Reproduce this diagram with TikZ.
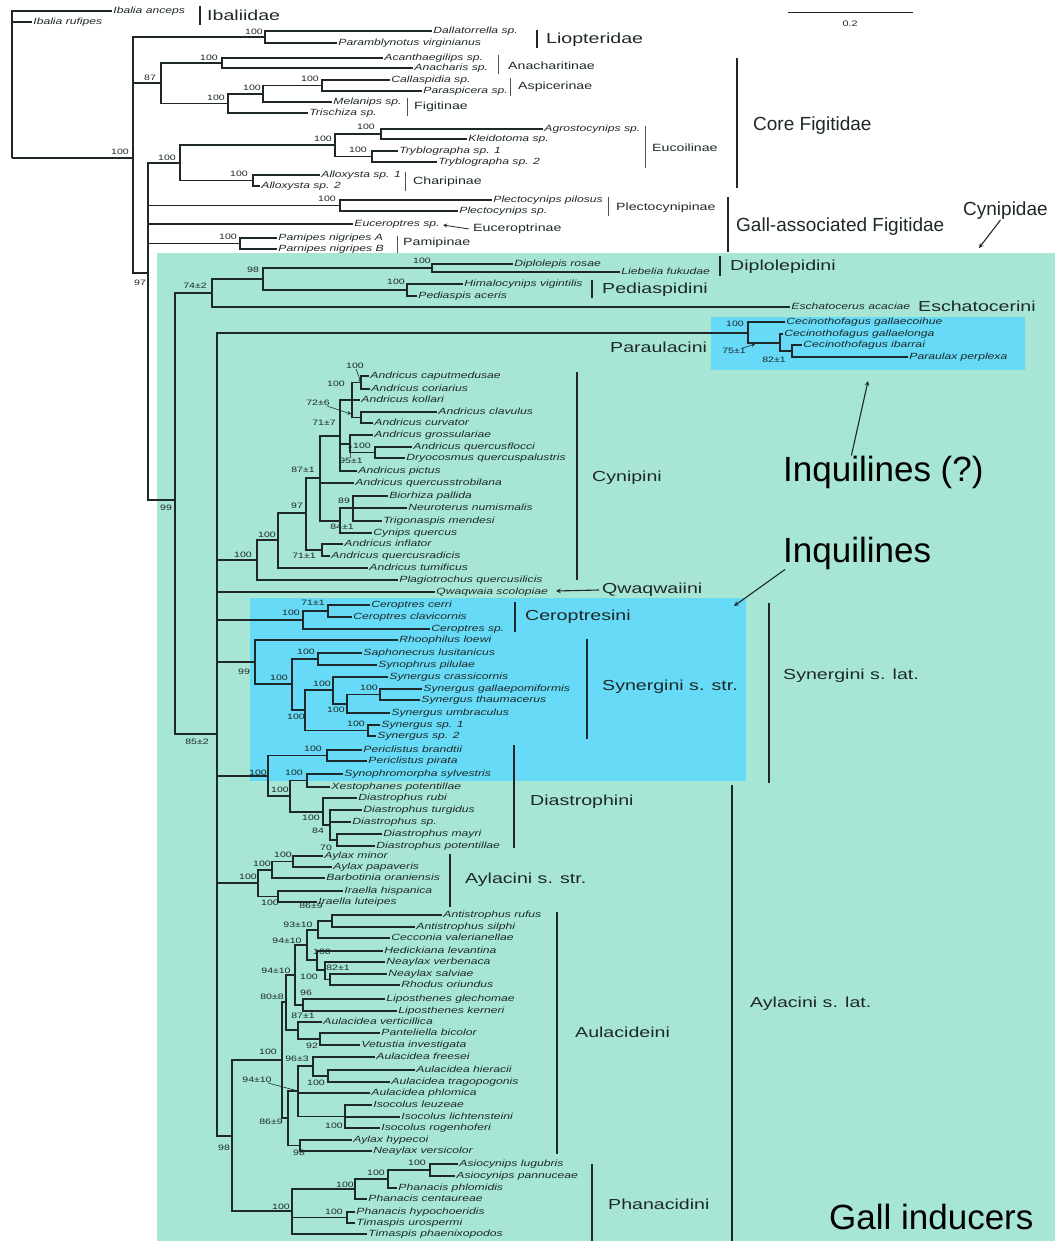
\documentclass[tikz,border=0pt]{standalone}
\usepackage{fontspec}
\setmainfont{Liberation Sans}
\usepackage{graphicx}
\definecolor{gallgreen}{RGB}{167,230,212}
\definecolor{inqblue}{RGB}{102,218,246}
\definecolor{ink}{RGB}{30,40,40}
\newcommand{\wide}[1]{\scalebox{1.35}[1]{#1}}

\begin{document}
\begin{tikzpicture}[x=1pt, y=-1pt,
    br/.style={draw=ink, line width=1.2pt},
    cbar/.style={draw=ink, line width=2.4pt},
    tbar/.style={draw=ink!80, line width=1pt},
    leaf/.style={anchor=west, inner xsep=1.2pt, inner ysep=0pt, text height=6pt, text depth=1.4pt, text=ink, font=\fontsize{9}{10}\selectfont\itshape},
    bs/.style={inner sep=0pt, text=ink, font=\fontsize{7.8}{8}\selectfont},
    sub/.style={anchor=west, inner sep=0pt, text=ink, font=\fontsize{10.5}{12}\selectfont},
    clade/.style={anchor=west, inner sep=0pt, text=ink, font=\fontsize{14.5}{16}\selectfont},
    big/.style={anchor=west, inner sep=0pt, text=ink, font=\fontsize{19}{22}\selectfont},
    huge/.style={anchor=west, inner sep=0pt, text=black, font=\fontsize{35}{40}\selectfont},
    pointer/.style={draw=ink, line width=1.1pt, -stealth},
    tick/.style={draw=ink, line width=0.6pt}
]
    \useasboundingbox (0,0) rectangle (1055,1241);

    % Shaded areas
    \fill[gallgreen] (157,253) rectangle (1055,1241);
    \fill[inqblue] (711,317) rectangle (1025,370);
    \fill[inqblue] (250,598) rectangle (746,781);

    % Scale bar
    \draw[draw=ink, line width=1pt] (788,13) -- (913,13);
    \node[bs, font=\fontsize{8}{9}\selectfont] (scl) at (850,24) {\wide{0.2}};

    % Tips of the tree
    \foreach \n/\px/\py/\lab in {
        ian/112/11/Ibalia anceps, iru/32/22/Ibalia rufipes,
        dal/432/31/Dallatorrella sp., par/337/43/Paramblynotus virginianus,
        aca/383/58/Acanthaegilips sp., ana/413/68/Anacharis sp.,
        cal/390/80/Callaspidia sp., pas/422/91/Paraspicera sp.,
        mel/332/102/Melanips sp., tri/308/113/Trischiza sp.,
        agr/543/129/Agrostocynips sp., kle/467/139/Kleidotoma sp.,
        try1/398/151/Tryblographa sp. 1, try2/437/162/Tryblographa sp. 2,
        all1/320/175/Alloxysta sp. 1, all2/260/186/Alloxysta sp. 2,
        plp/492/200/Plectocynips pilosus, pls/458/211/Plectocynips sp.,
        euc/353/224/Euceroptres sp.,
        pna/277/238/Pamipes nigripes A, pnb/277/249/Parnipes nigripes B,
        dro/513/264/Diplolepis rosae, lfu/620/272/Liebelia fukudae,
        hvi/463/284/Himalocynips vigintilis, pac/417/296/Pediaspis aceris,
        eac/790/307/Eschatocerus acaciae,
        cga/785/322/Cecinothofagus gallaecoihue, cgl/783/334/Cecinothofagus gallaelonga,
        cib/802/345/Cecinothofagus ibarrai, ppe/908/357/Paraulax perplexa,
        acm/369/376/Andricus caputmedusae, aco/370/389/Andricus coriarius,
        ako/360/400/Andricus kollari, acl/437/412/Andricus clavulus,
        acu/373/423/Andricus curvator, agro/373/435/Andricus grossulariae,
        aqf/412/447/Andricus quercusflocci, dqp/405/458/Dryocosmus quercuspalustris,
        api/357/471/Andricus pictus, aqs/354/483/Andricus quercusstrobilana,
        bpa/388/496/Biorhiza pallida, nnu/407/508/Neuroterus numismalis,
        tme/382/521/Trigonaspis mendesi, cqu/372/533/Cynips quercus,
        ain/343/544/Andricus inflator, aqr/330/556/Andricus quercusradicis,
        atu/368/568/Andricus tumificus, pqu/398/580/Plagiotrochus quercusilicis,
        qsc/435/592/Qwaqwaia scolopiae,
        cce/370/605/Ceroptres cerri, ccl/352/617/Ceroptres clavicornis,
        csp/430/629/Ceroptres sp.,
        rlo/398/640/Rhoophilus loewi, slu/362/653/Saphonecrus lusitanicus,
        spi/377/665/Synophrus pilulae, scr/388/677/Synergus crassicornis,
        sga/422/689/Synergus gallaepomiformis, sth/420/700/Synergus thaumacerus,
        sum/390/713/Synergus umbraculus, ss1/380/725/Synergus sp. 1,
        ss2/376/736/Synergus sp. 2,
        pbr/362/750/Periclistus brandtii, ppi/367/761/Periclistus pirata,
        ssy/343/774/Synophromorpha sylvestris, xpo/330/787/Xestophanes potentillae,
        dru/357/798/Diastrophus rubi, dtu/362/810/Diastrophus turgidus,
        dsp/351/822/Diastrophus sp., dma/382/834/Diastrophus mayri,
        dpo/375/846/Diastrophus potentillae,
        ami/323/856/Aylax minor, apa/332/867/Aylax papaveris,
        bor/325/878/Barbotinia oraniensis, ihi/343/891/Iraella hispanica,
        ilu/317/902/Iraella luteipes,
        aru/442/915/Antistrophus rufus, asi/415/927/Antistrophus silphi,
        cva/390/938/Cecconia valerianellae, hle/383/951/Hedickiana levantina,
        nve/385/962/Neaylax verbenaca, nsa/387/974/Neaylax salviae,
        ror/400/985/Rhodus oriundus, lgl/385/999/Liposthenes glechomae,
        lke/397/1011/Liposthenes kerneri, ave/322/1022/Aulacidea verticillica,
        pbi/380/1033/Panteliella bicolor, vin/360/1045/Vetustia investigata,
        afr/375/1057/Aulacidea freesei, ahi/415/1070/Aulacidea hieracii,
        atr/390/1082/Aulacidea tragopogonis, aph/370/1093/Aulacidea phlomica,
        ile/372/1105/Isocolus leuzeae, ili/400/1117/Isocolus lichtensteini,
        iro/380/1128/Isocolus rogenhoferi, ahy/352/1140/Aylax hypecoi,
        nvs/372/1151/Neaylax versicolor,
        alu/458/1164/Asiocynips lugubris, apn/455/1176/Asiocynips pannuceae,
        pph/397/1188/Phanacis phlomidis, pce/367/1199/Phanacis centaureae,
        phy/355/1212/Phanacis hypochoeridis, tur/355/1223/Timaspis urospermi,
        tph/367/1234/Timaspis phaenixopodos} {
        \node[leaf] (\n) at (\px,\py) {\wide{\lab}};
    }

    % Inner nodes of the tree
    \foreach \n/\px/\py in {
        root/12/158, A/133/158, liop/265/37, n87/161/83, anach/222/63,
        asp/322/85.5, mlp/263/94, fig/228/103.5, B/148/273, ec/180/163,
        eucN/335/145, agrN/381/134, tryN/372/156.5, allN/253/180.5,
        plec/340/205.5, parn/240/243.5, C/175/500, n742/212/293,
        n98t/263/279, dipl/432/268, pedi/407/290, D/217/734,
        P1/748/333, P2/780/343, P3/792/351,
        N1/361/382.5, N2/352/400, N3/361/417.5, N5/375/452.5, N6/350/444,
        N7/340/436, N8/353/508, N9/340/521, N10/320/478, N11/322/550,
        N12/306/513, N13/278/540, N14/257/560,
        cr1/328/611, cr2/303/620,
        S1/318/659, S2/380/694.5, S3/347/704, S4/333/690, S5/368/730.5,
        S6/305/710, S7/292/684, S99/255/662,
        pe/327/755.5, sy/307/780.5, dm/337/840, dt/330/825, dr/323/812,
        ds/290/796, di/268/776,
        am/293/861.5, ab/272/870, ir/278/896.5, ay/258/883,
        ar/332/921, ce/318/930, ns/330/979.5, nv/325/970, hl/317/960,
        ua/307/945, lg/303/1005, ub/295/975, pv/320/1039, kx/298/1030,
        k80/286/1002, ah/328/1076, af/313/1066, is/345/1116.5, ap/298/1091,
        ah2/300/1145.5, k86/288/1118, aul/282/1060,
        as/430/1170, ph1/388/1179, ph2/355/1189, tu/347/1217.5,
        phan/292/1211, n98b/232/1136} {
        \coordinate (\n) at (\px,\py);
    }

    % Branches
    \foreach \p/\c in {
        root/ian, root/iru, root/A, A/liop, A/n87, A/B,
        liop/dal, liop/par, n87/anach, n87/fig, anach/aca, anach/ana,
        fig/mlp, fig/tri, mlp/asp, mlp/mel, asp/cal, asp/pas,
        B/ec, B/plec, B/euc, B/parn, B/C,
        ec/eucN, ec/allN, eucN/agrN, eucN/tryN, agrN/agr, agrN/kle,
        tryN/try1, tryN/try2, allN/all1, allN/all2,
        plec/plp, plec/pls, parn/pna, parn/pnb,
        C/n742, C/D, n742/n98t, n742/eac, n98t/dipl, n98t/pedi,
        dipl/dro, dipl/lfu, pedi/hvi, pedi/pac,
        D/P1, D/N14, D/qsc, D/cr2, D/S99, D/di, D/ay, D/n98b,
        P1/cga, P1/P2, P2/cgl, P2/P3, P3/cib, P3/ppe,
        N14/N13, N14/pqu, N13/N12, N13/atu, N12/N10, N12/N11,
        N11/ain, N11/aqr, N10/N7, N10/aqs, N10/N9,
        N9/N8, N9/cqu, N8/bpa, N8/nnu, N8/tme,
        N7/N2, N7/N6, N7/api, N6/agro, N6/N5, N5/aqf, N5/dqp,
        N2/N1, N2/ako, N2/N3, N1/acm, N1/aco, N3/acl, N3/acu,
        cr2/cr1, cr2/csp, cr1/cce, cr1/ccl,
        S99/rlo, S99/S7, S7/S1, S7/S6, S1/slu, S1/spi,
        S6/S4, S6/S5, S4/scr, S4/S3, S3/S2, S3/sum, S2/sga, S2/sth,
        S5/ss1, S5/ss2,
        di/pe, di/ds, pe/pbr, pe/ppi, ds/sy, ds/dr, sy/ssy, sy/xpo,
        dr/dru, dr/dt, dt/dtu, dt/dsp, dt/dm, dm/dma, dm/dpo,
        ay/ab, ay/ir, ab/am, ab/bor, am/ami, am/apa, ir/ihi, ir/ilu,
        n98b/aul, n98b/phan, aul/k80, aul/k86,
        k80/ub, k80/kx, ub/ua, ub/lg, ua/ce, ua/hl, ce/ar, ce/cva,
        ar/aru, ar/asi, hl/hle, hl/nv, nv/nve, nv/ns, ns/nsa, ns/ror,
        lg/lgl, lg/lke, kx/ave, kx/pv, pv/pbi, pv/vin,
        k86/ap, k86/ah2, ap/af, ap/aph, ap/is, af/afr, af/ah,
        ah/ahi, ah/atr, is/ile, is/ili, is/iro, ah2/ahy, ah2/nvs,
        phan/ph2, phan/tu, phan/tph, ph2/ph1, ph2/pce, ph1/as, ph1/pph,
        as/alu, as/apn, tu/phy, tu/tur} {
        \draw[br] (\p) |- (\c);
    }

    % Support values
    \foreach \n/\px/\py/\lab in {
        b1/120/152/100, b2/254/32/100, b3/150/78/87, b4/209/58/100,
        b5/310/79/100, b6/252/88/100, b7/216/98/100, b8/366/127/100,
        b9/323/139/100, b10/358/150/100, b11/167/158/100, b12/239/174/100,
        b13/327/199/100, b14/228/237/100, b15/140/283/97, b16/166/508/99,
        b17/195/286/74±2, b18/253/270/98, b19/422/261/100, b20/396/282/100,
        b21/197/742/85±2, b22/735/324/100, b23/734/351/75±1, b24/774/360/82±1,
        b25/355/366/100, b26/336/384/100, b27/318/403/72±6, b28/324/423/71±7,
        b29/362/446/100, b30/351/461/95±1, b31/303/470/87±1, b32/344/501/89,
        b33/342/527/84±1, b34/304/556/71±1, b35/297/506/97, b36/267/535/100,
        b37/243/555/100, b38/313/603/71±1, b39/291/613/100, b40/244/672/99,
        b41/279/678/100, b42/306/652/100, b43/322/684/100, b44/369/688/100,
        b45/336/710/100, b46/296/717/100, b47/356/724/100, b48/313/749/100,
        b49/294/773/100, b50/258/773/100, b51/280/790/100, b52/311/818/100,
        b53/318/831/84, b54/326/848/70, b55/283/855/100, b56/262/864/100,
        b57/248/877/100, b58/270/903/100, b59/311/906/86±9, b60/298/925/93±10,
        b61/287/941/94±10, b62/322/952/100, b63/338/968/82±1, b64/309/977/100,
        b65/276/971/94±10, b66/306/993/96, b67/272/997/80±8, b68/303/1016/87±1,
        b69/312/1046/92, b70/268/1052/100, b71/297/1059/96±3, b72/316/1083/100,
        b73/257/1080/94±10, b74/334/1126/100, b75/271/1122/86±9, b76/299/1153/98,
        b77/224/1148/98, b78/417/1163/100, b79/376/1173/100, b80/345/1185/100,
        b81/281/1207/100, b82/334/1212/100} {
        \node[bs] (\n) at (\px,\py) {\wide{\lab}};
    }

    % Little pointers from support values
    \coordinate (p726) at (351,414);
    \coordinate (p751) at (755,344);
    \draw[tick, -stealth] (b25) -- (N1);
    \draw[tick, -stealth] (b27) -- (p726);
    \draw[tick, -stealth] (b23) -- (p751);
    \draw[tick, -stealth] (b30) -- (N6);
    \draw[tick] (b73) -- (ap);

    % Clade bars
    \foreach \bx/\ya/\yb in {498/55/74, 510/78/96, 407/98/116, 645/126/168,
        405/172/191, 608/197/216, 397/236/253} {
        \draw[tbar] (\bx,\ya) -- (\bx,\yb);
    }
    \foreach \bx/\ya/\yb in {200/6/25, 537/30/48, 737/58/188, 728/197/252,
        720/256/276, 592/280/298, 577/372/580, 515/602/632, 587/639/739,
        769/603/783, 514/745/848, 450/854/907, 557/912/1154, 732/785/1241,
        592/1164/1241} {
        \draw[cbar] (\bx,\ya) -- (\bx,\yb);
    }

    % Subfamily names
    \foreach \n/\px/\py/\lab in {
        anachL/508/66/Anacharitinae, aspL/518/87/Aspicerinae,
        figL/414/107/Figitinae, eucL/652/148/Eucoilinae,
        chaL/413/182/Charipinae, pleL/616/208/Plectocynipinae,
        euceL/473/229/Euceroptrinae, parnL/403/243/Pamipinae} {
        \node[sub] (\n) at (\px,\py) {\wide{\lab}};
    }

    % Family and tribe names
    \foreach \n/\px/\py/\lab in {
        ibaL/207/15/Ibaliidae, liopL/546/40/Liopteridae,
        diplL/730/267/Diplolepidini, pediL/602/290/Pediaspidini,
        eschL/918/306/Eschatocerini, paulL/610/347/Paraulacini,
        cynL/592/478/Cynipini, qwaL/602/590/Qwaqwaiini,
        cerL/525/617/Ceroptresini, synL/602/687/Synergini s. str.,
        synlatL/783/676/Synergini s. lat., diaL/530/802/Diastrophini,
        aylL/465/880/Aylacini s. str., aulL/575/1032/Aulacideini,
        aylatL/750/1004/Aylacini s. lat., phaL/608/1204/Phanacidini} {
        \node[clade] (\n) at (\px,\py) {\wide{\lab}};
    }

    % Group names added on top
    \node[big] (coreL) at (753,126) {Core Figitidae};
    \node[big] (gallL) at (736,227) {Gall-associated Figitidae};
    \node[big] (cynipL) at (963,211) {Cynipidae};
    \node[huge] (inq2L) at (783,472) {Inquilines (?)};
    \node[huge] (inqL) at (783,553) {Inquilines};
    \node[huge] (gallIndL) at (829,1217) {Gall inducers};

    % Arrows
    \coordinate (euceT) at (443,225);
    \coordinate (qwaT) at (556,591);
    \coordinate (cynipT) at (979,248);
    \coordinate (inq2T) at (868,381);
    \coordinate (inqT) at (734,606);
    \draw[pointer, line width=0.8pt] ([xshift=-4pt]euceL.west) -- (euceT);
    \draw[pointer] ([xshift=-3pt]qwaL.west) -- (qwaT);
    \draw[pointer] ([xshift=-5pt]cynipL.south) -- (cynipT);
    \draw[pointer] ([xshift=-32pt]inq2L.north) -- (inq2T);
    \draw[pointer] ([xshift=2pt]inqL.south west) -- (inqT);
\end{tikzpicture}
\end{document}
